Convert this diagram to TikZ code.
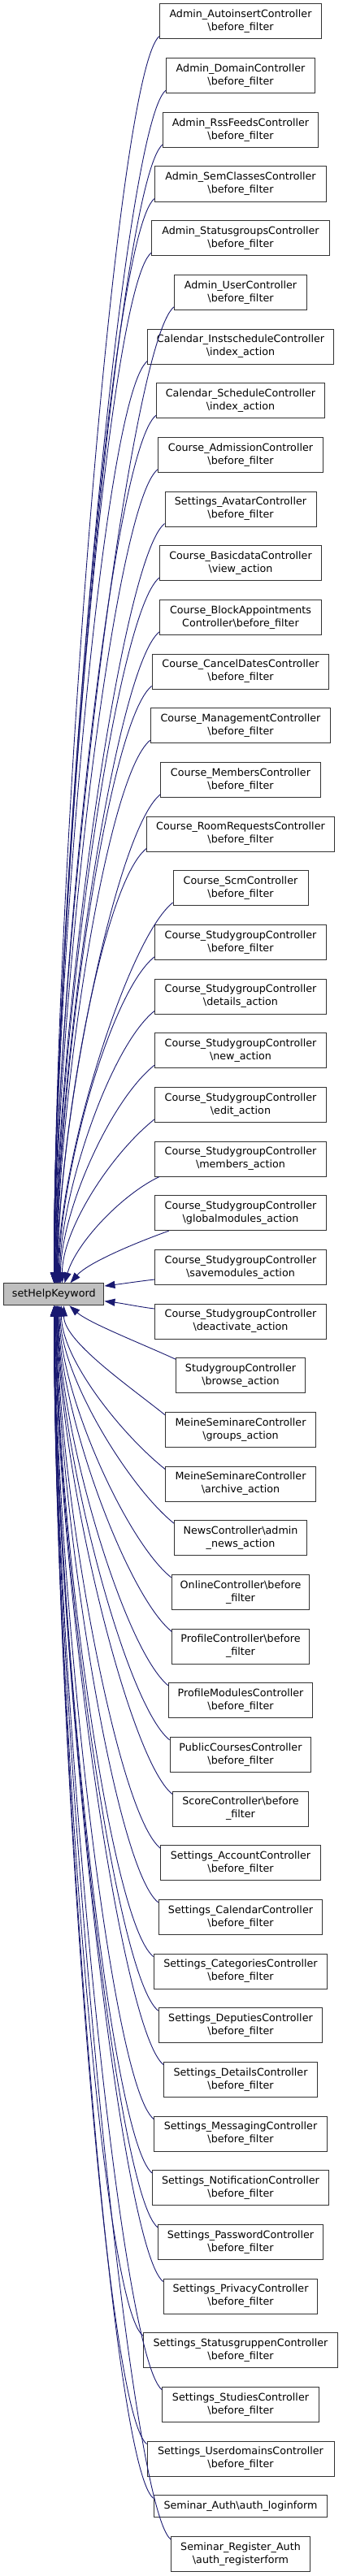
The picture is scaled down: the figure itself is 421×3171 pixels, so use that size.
\documentclass[tikz,border=0pt]{standalone}
\usepackage{fontspec}
\setmainfont{DejaVu Sans}
\usetikzlibrary{arrows.meta,calc}
\definecolor{edgeblue}{RGB}{25,25,112}
\definecolor{boxgray}{RGB}{191,191,191}
\begin{document}
\begin{tikzpicture}[x=1pt,y=-1pt,
  fn/.style={draw=black!80, line width=1pt, fill=white, align=center, inner sep=0pt,
    minimum height=43pt, font=\fontsize{12.7}{16}\selectfont},
  fnone/.style={fn, minimum height=27pt},
  target/.style={fnone, fill=boxgray, minimum width=123.3pt},
  edge/.style={draw=edgeblue, line width=0.9pt, -{Triangle[length=13pt,width=9pt,fill=edgeblue]}}
]
\useasboundingbox (0,0) rectangle (421,3171);

\node[target] (hk) at (66.3,1593.3) {setHelpKeyword};

\foreach \k/\bw/\txt in {
 1/198.6/{Admin\_AutoinsertController\\\textbackslash before\_filter},
 2/183/{Admin\_DomainController\\\textbackslash before\_filter},
 3/190.7/{Admin\_RssFeedsController\\\textbackslash before\_filter},
 4/211/{Admin\_SemClassesController\\\textbackslash before\_filter},
 5/218.7/{Admin\_StatusgroupsController\\\textbackslash before\_filter},
 6/163/{Admin\_UserController\\\textbackslash before\_filter},
 7/228.3/{Calendar\_InstscheduleController\\\textbackslash index\_action},
 8/207/{Calendar\_ScheduleController\\\textbackslash index\_action},
 9/203/{Course\_AdmissionController\\\textbackslash before\_filter},
 10/186/{Settings\_AvatarController\\\textbackslash before\_filter},
 11/199/{Course\_BasicdataController\\\textbackslash view\_action},
 12/199/{Course\_BlockAppointments\\Controller\textbackslash before\_filter},
 13/217.7/{Course\_CancelDatesController\\\textbackslash before\_filter},
 14/221.3/{Course\_ManagementController\\\textbackslash before\_filter},
 15/196.3/{Course\_MembersController\\\textbackslash before\_filter},
 16/230.7/{Course\_RoomRequestsController\\\textbackslash before\_filter},
 17/166/{Course\_ScmController\\\textbackslash before\_filter},
 18/211/{Course\_StudygroupController\\\textbackslash before\_filter},
 19/211/{Course\_StudygroupController\\\textbackslash details\_action},
 20/211/{Course\_StudygroupController\\\textbackslash new\_action},
 21/211/{Course\_StudygroupController\\\textbackslash edit\_action},
 22/211/{Course\_StudygroupController\\\textbackslash members\_action},
 23/211/{Course\_StudygroupController\\\textbackslash globalmodules\_action},
 24/211/{Course\_StudygroupController\\\textbackslash savemodules\_action},
 25/211/{Course\_StudygroupController\\\textbackslash deactivate\_action},
 26/159/{StudygroupController\\\textbackslash browse\_action},
 27/184.7/{MeineSeminareController\\\textbackslash groups\_action},
 28/184.7/{MeineSeminareController\\\textbackslash archive\_action},
 29/163/{NewsController\textbackslash admin\\\_news\_action},
 30/169.7/{OnlineController\textbackslash before\\\_filter},
 31/168.3/{ProfileController\textbackslash before\\\_filter},
 32/176.3/{ProfileModulesController\\\textbackslash before\_filter},
 33/173.7/{PublicCoursesController\\\textbackslash before\_filter},
 34/167/{ScoreController\textbackslash before\\\_filter},
 35/196.3/{Settings\_AccountController\\\textbackslash before\_filter},
 36/201.7/{Settings\_CalendarController\\\textbackslash before\_filter},
 37/213.7/{Settings\_CategoriesController\\\textbackslash before\_filter},
 38/201.7/{Settings\_DeputiesController\\\textbackslash before\_filter},
 39/188.3/{Settings\_DetailsController\\\textbackslash before\_filter},
 40/212.7/{Settings\_MessagingController\\\textbackslash before\_filter},
 41/216.3/{Settings\_NotificationController\\\textbackslash before\_filter},
 42/203/{Settings\_PasswordController\\\textbackslash before\_filter},
 43/189.7/{Settings\_PrivacyController\\\textbackslash before\_filter},
 44/239.3/{Settings\_StatusgruppenController\\\textbackslash before\_filter},
 45/192.3/{Settings\_StudiesController\\\textbackslash before\_filter},
 46/230/{Settings\_UserdomainsController\\\textbackslash before\_filter}}{
  \pgfmathsetmacro\yc{26.5+(\k-1)*66.6667}
  \node[fn, minimum width=\bw pt] (n\k) at (296,\yc) {\txt};
}
\node[fnone, minimum width=213.7pt] (n47) at (296,3085.3) {Seminar\_Auth\textbackslash auth\_loginform};
\node[fn, minimum width=170.7pt] (n48) at (296,3144) {Seminar\_Register\_Auth\\\textbackslash auth\_registerform};

% callers above the target
\foreach \k/\xt in {1/67,2/67,3/67,4/67,5/67,6/67,7/67,8/67.5,9/68,10/68.5,11/69,12/69.5,13/70,14/70.5,15/71,16/71.5,17/72,18/73,19/74,20/75,21/77}{
  \pgfmathsetmacro\dist{1580-(26.5+(\k-1)*66.6667+17.5)}
  \pgfmathsetmacro\ctrlA{min(55,0.35*\dist)}
  \pgfmathsetmacro\ctrlB{0.8*\ctrlA-4}
  \pgfmathsetmacro\ctrlL{0.32*\dist}
  \pgfmathsetmacro\tipx{\xt-4.65}
  \draw[edge] ($(n\k.south west)+(0,-4)$) .. controls ($(n\k.south west)+(-\ctrlA,\ctrlB)$) and ($(hk.north west)+(\tipx,-\ctrlL)$) .. ($(hk.north west)+(\tipx,0)$);
}
\draw[edge] ($(n22.south west)+(6,0)$) .. controls ($(n22.south west)+(-40,22)$) and ($(hk.north west)+(90,-50)$) .. ($(hk.north west)+(75.3,0)$);
\draw[edge] ($(n23.south west)+(17.7,0)$) .. controls ($(n23.south west)+(-30.3,17.3)$) and ($(hk.north west)+(103.3,-24)$) .. ($(hk.north west)+(82.3,0)$);
\draw[edge] ($(n24.west)+(0,15.2)$) .. controls ($(n24.west)+(-20,17.5)$) and ($(hk.east)+(22,-13)$) .. ($(hk.east)+(0,-10.3)$);
\draw[edge] ($(n25.west)+(0,-15.5)$) .. controls ($(n25.west)+(-20,-18)$) and ($(hk.east)+(22,11)$) .. ($(hk.east)+(0,8.4)$);
\draw[edge] ($(n26.north west)+(0,2)$) .. controls ($(n26.north west)+(-41.3,-17)$) and ($(hk.south west)+(105.3,21.3)$) .. ($(hk.south west)+(81.3,0)$);

% callers below the target
\foreach \k/\xt in {27/79,28/76,29/74.5,30/73.5,31/72.5,32/72,33/71.5,34/71,35/70.5,36/70,37/69.5,38/69,39/68.5,40/68,41/67.5,42/67,43/67,44/67,45/67,46/67,47/67,48/67}{
  \pgfmathsetmacro\yc{\k<47 ? 26.5+(\k-1)*66.6667 : (\k==47 ? 3093.3 : 3144)}
  \pgfmathsetmacro\dist{(\yc-17.5)-1606.7}
  \pgfmathsetmacro\ctrlA{min(55,0.35*\dist)}
  \pgfmathsetmacro\ctrlB{4-0.8*\ctrlA}
  \pgfmathsetmacro\ctrlL{0.32*\dist}
  \pgfmathsetmacro\tipx{\xt-4.65}
  \draw[edge] ($(n\k.north west)+(0,4)$) .. controls ($(n\k.north west)+(-\ctrlA,\ctrlB)$) and ($(hk.south west)+(\tipx,\ctrlL)$) .. ($(hk.south west)+(\tipx,0)$);
}
\end{tikzpicture}
\end{document}
